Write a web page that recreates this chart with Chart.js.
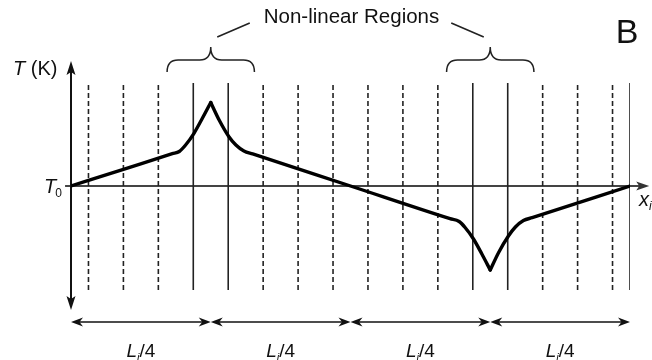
<!DOCTYPE html>
<html>
<head>
<meta charset="utf-8">
<script src="https://cdn.jsdelivr.net/npm/chart.js@4.4.1/dist/chart.umd.min.js"></script>
<style>
  html, body { margin: 0; padding: 0; background: #fff; }
  #wrap { width: 652px; height: 360px; position: relative; }
</style>
</head>
<body>
<div id="wrap"><canvas id="c" width="652" height="360"></canvas></div>
<script>
// Temperature profile along the rod: position in probe spacings, T - T0 in arbitrary units
const position    = [0, 1.5, 2.9, 3.1, 3.28, 3.52, 3.76, 4.0, 4.24, 4.52, 4.72, 4.95, 5.2, 8.0,
                     10.85, 11.11, 11.28, 11.52, 11.76, 12.0, 12.24, 12.52, 12.72, 12.95, 13.2, 16];
const temperature = [0, 1.67, 3.23, 3.45, 4.1, 5.27, 6.77, 8.35, 6.6, 4.93, 4.1, 3.5, 3.21, 0,
                     -3.27, -3.55, -4.15, -5.3, -6.8, -8.4, -6.65, -5.0, -4.1, -3.45, -3.17, 0];

// Thermocouple probe positions
const dashedProbes = [0.5, 1.5, 2.5, 5.5, 6.5, 7.5, 8.5, 9.5, 10.5, 13.5, 14.5, 15.5];
const solidProbes  = [3.5, 4.5, 11.5, 12.5, 16];
const probeSpan    = [-10.4, 10.3];

// Axes extents
const xAxisRange = [-0.17, 16.55];
const yAxisRange = [-12.4, 12.5];

// Quarter-length segments and the non-linear regions around the heat source / sink
const segmentEdges     = [0, 4, 8, 12, 16];
const regionCenters    = [4, 12];
const regionHalfWidth  = 1.25;
const regionTitle      = 'Non-linear Regions';
const panelLetter      = 'B';

const FAM = '"Liberation Sans", Arial, Helvetica, sans-serif';

// Split the profile into smooth branches at the cusps
const extrema = [];
for (let i = 1; i < temperature.length - 1; i++) {
  const a = temperature[i - 1], b = temperature[i], c = temperature[i + 1];
  if ((b > a && b > c) || (b < a && b < c)) extrema.push(i);
}
const cuts = [0, ...extrema, temperature.length - 1];
const datasets = [];
for (let k = 0; k < cuts.length - 1; k++) {
  const pts = [];
  for (let i = cuts[k]; i <= cuts[k + 1]; i++) pts.push({ x: position[i], y: temperature[i] });
  datasets.push({
    data: pts, borderColor: '#000', borderWidth: 3.4, pointRadius: 0,
    cubicInterpolationMode: 'monotone', borderCapStyle: 'round', borderJoinStyle: 'round', order: 0
  });
}
function probe(x, dashed) {
  return {
    data: [{ x: x, y: probeSpan[0] }, { x: x, y: probeSpan[1] }],
    borderColor: '#222', borderWidth: 1.6, pointRadius: 0,
    borderDash: dashed ? [5, 3] : [], order: 1
  };
}
dashedProbes.forEach(x => datasets.push(probe(x, true)));
solidProbes.forEach(x => datasets.push(probe(x, false)));

function arrowHead(ctx, x, y, ang, len, half, notch) {
  ctx.save();
  ctx.translate(x, y);
  ctx.rotate(ang);
  ctx.beginPath();
  ctx.moveTo(0, 0);
  ctx.lineTo(-len, -half);
  ctx.lineTo(-len + notch, 0);
  ctx.lineTo(-len, half);
  ctx.closePath();
  ctx.fill();
  ctx.restore();
}

function richText(ctx, parts, x, y, align) {
  let total = 0;
  parts.forEach(p => { ctx.font = p.font; p.w = ctx.measureText(p.t).width + (p.gap || 0); total += p.w; });
  let cx = align === 'center' ? x - total / 2 : x;
  ctx.textAlign = 'left';
  ctx.textBaseline = 'alphabetic';
  parts.forEach(p => { ctx.font = p.font; ctx.fillText(p.t, cx, y + (p.dy || 0)); cx += p.w; });
}

const axesPlugin = {
  id: 'axes',
  beforeDatasetsDraw(chart) {
    const ctx = chart.ctx, sx = chart.scales.x, sy = chart.scales.y;
    ctx.save();
    // horizontal axis
    ctx.strokeStyle = '#444';
    ctx.lineWidth = 2;
    const y0 = sy.getPixelForValue(0);
    const xl = sx.getPixelForValue(xAxisRange[0]), xr = sx.getPixelForValue(xAxisRange[1]);
    ctx.beginPath(); ctx.moveTo(xl, y0); ctx.lineTo(xr - 6, y0); ctx.stroke();
    ctx.fillStyle = '#333';
    arrowHead(ctx, xr, y0, 0, 13, 4.5, 3);
    // vertical axis
    ctx.strokeStyle = '#111';
    ctx.fillStyle = '#111';
    const x0 = sx.getPixelForValue(0);
    const yb = sy.getPixelForValue(yAxisRange[0]), yt = sy.getPixelForValue(yAxisRange[1]);
    ctx.beginPath(); ctx.moveTo(x0, yb - 6); ctx.lineTo(x0, yt + 6); ctx.stroke();
    arrowHead(ctx, x0, yt, -Math.PI / 2, 14, 4.5, 3);
    arrowHead(ctx, x0, yb, Math.PI / 2, 14, 4.5, 3);
    ctx.restore();
  },
  afterDraw(chart) {
    const ctx = chart.ctx, sx = chart.scales.x, sy = chart.scales.y, area = chart.chartArea;
    ctx.save();
    ctx.fillStyle = '#111';
    ctx.strokeStyle = '#222';

    // axis labels
    richText(ctx, [{ t: 'T', font: 'italic 20px ' + FAM }, { t: ' (K)', font: '20px ' + FAM }], 13, 75, 'left');
    const y0 = sy.getPixelForValue(0);
    richText(ctx, [{ t: 'T', font: 'italic 20px ' + FAM, gap: -1 }, { t: '0', font: '12px ' + FAM, dy: 4 }], 44, y0 + 7, 'left');
    richText(ctx, [{ t: 'x', font: 'italic 20px ' + FAM }, { t: 'i', font: 'italic 12px ' + FAM, dy: 4 }], 639, y0 + 20, 'left');

    // braces over the non-linear regions
    const braceTop = area.top - 13, braceMid = area.top, braceEnd = area.top + 12;
    ctx.lineWidth = 1.5;
    const tips = [];
    regionCenters.forEach(c => {
      const xa = sx.getPixelForValue(c - regionHalfWidth);
      const xm = sx.getPixelForValue(c);
      const xb = sx.getPixelForValue(c + regionHalfWidth);
      const r = 11;
      ctx.beginPath();
      ctx.moveTo(xa, braceEnd);
      ctx.quadraticCurveTo(xa, braceMid, xa + r, braceMid);
      ctx.lineTo(xm - r, braceMid);
      ctx.quadraticCurveTo(xm, braceMid, xm, braceTop);
      ctx.quadraticCurveTo(xm, braceMid, xm + r, braceMid);
      ctx.lineTo(xb - r, braceMid);
      ctx.quadraticCurveTo(xb, braceMid, xb, braceEnd);
      ctx.stroke();
      tips.push(xm);
    });
    // leader lines and title
    ctx.lineWidth = 1.6;
    ctx.beginPath();
    ctx.moveTo(tips[0] + 6.5, braceTop - 10); ctx.lineTo(tips[0] + 39, braceTop - 24);
    ctx.moveTo(tips[1] - 6.5, braceTop - 10); ctx.lineTo(tips[1] - 39, braceTop - 24);
    ctx.stroke();
    ctx.font = '20.5px ' + FAM;
    ctx.textAlign = 'center';
    ctx.textBaseline = 'middle';
    ctx.fillText(regionTitle, (tips[0] + tips[1]) / 2 + 1, 17);

    // panel letter
    ctx.font = '34px ' + FAM;
    ctx.fillText(panelLetter, 627, 34);

    // quarter-length dimension arrows
    const ya = area.bottom + 12;
    ctx.lineWidth = 1.6;
    ctx.strokeStyle = '#111';
    for (let k = 0; k < segmentEdges.length - 1; k++) {
      const a = sx.getPixelForValue(segmentEdges[k]);
      const b = sx.getPixelForValue(segmentEdges[k + 1]);
      ctx.beginPath(); ctx.moveTo(a + 4, ya); ctx.lineTo(b - 4, ya); ctx.stroke();
      arrowHead(ctx, a, ya, Math.PI, 12, 4.5, 3.5);
      arrowHead(ctx, b, ya, 0, 12, 4.5, 3.5);
      richText(ctx, [
        { t: 'L', font: 'italic 19px ' + FAM },
        { t: 'i', font: 'italic 11px ' + FAM, dy: 4 },
        { t: '/4', font: '19px ' + FAM }
      ], (a + b) / 2, area.bottom + 47, 'center');
    }
    ctx.restore();
  }
};

new Chart(document.getElementById('c').getContext('2d'), {
  type: 'line',
  data: { datasets: datasets },
  options: {
    responsive: false,
    devicePixelRatio: 1,
    animation: false,
    layout: { padding: { left: 71, right: 22, top: 60, bottom: 50 } },
    plugins: { legend: { display: false }, tooltip: { enabled: false } },
    scales: {
      x: { type: 'linear', min: 0, max: 16, display: false },
      y: { type: 'linear', min: -12.4, max: 12.6, display: false }
    }
  },
  plugins: [axesPlugin]
});
</script>
</body>
</html>
